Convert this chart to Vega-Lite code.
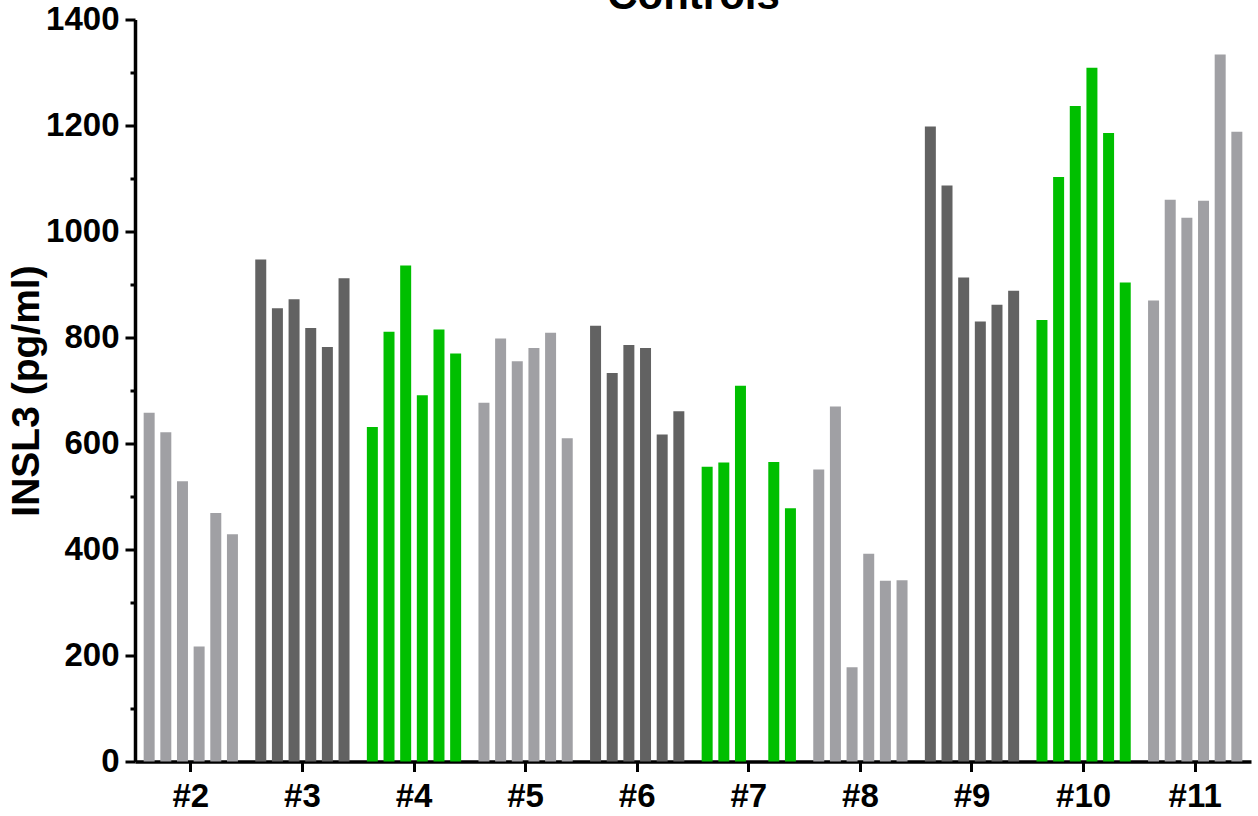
{
  "$schema": "https://vega.github.io/schema/vega-lite/v6.json",
  "autosize": {"type": "none"},
  "width": 1116,
  "height": 742,
  "padding": {"left": 135, "top": 19.5, "right": 7, "bottom": 54.5},
  "background": "white",
  "data": {"values": [
    {"group": "#2", "idx": 1, "value": 658, "shade": "light"},
    {"group": "#2", "idx": 2, "value": 621, "shade": "light"},
    {"group": "#2", "idx": 3, "value": 529, "shade": "light"},
    {"group": "#2", "idx": 4, "value": 217, "shade": "light"},
    {"group": "#2", "idx": 5, "value": 469, "shade": "light"},
    {"group": "#2", "idx": 6, "value": 429, "shade": "light"},
    {"group": "#3", "idx": 1, "value": 947, "shade": "dark"},
    {"group": "#3", "idx": 2, "value": 855, "shade": "dark"},
    {"group": "#3", "idx": 3, "value": 872, "shade": "dark"},
    {"group": "#3", "idx": 4, "value": 818, "shade": "dark"},
    {"group": "#3", "idx": 5, "value": 782, "shade": "dark"},
    {"group": "#3", "idx": 6, "value": 912, "shade": "dark"},
    {"group": "#4", "idx": 1, "value": 631, "shade": "green"},
    {"group": "#4", "idx": 2, "value": 811, "shade": "green"},
    {"group": "#4", "idx": 3, "value": 936, "shade": "green"},
    {"group": "#4", "idx": 4, "value": 691, "shade": "green"},
    {"group": "#4", "idx": 5, "value": 815, "shade": "green"},
    {"group": "#4", "idx": 6, "value": 770, "shade": "green"},
    {"group": "#5", "idx": 1, "value": 677, "shade": "light"},
    {"group": "#5", "idx": 2, "value": 798, "shade": "light"},
    {"group": "#5", "idx": 3, "value": 755, "shade": "light"},
    {"group": "#5", "idx": 4, "value": 780, "shade": "light"},
    {"group": "#5", "idx": 5, "value": 809, "shade": "light"},
    {"group": "#5", "idx": 6, "value": 610, "shade": "light"},
    {"group": "#6", "idx": 1, "value": 822, "shade": "dark"},
    {"group": "#6", "idx": 2, "value": 733, "shade": "dark"},
    {"group": "#6", "idx": 3, "value": 786, "shade": "dark"},
    {"group": "#6", "idx": 4, "value": 780, "shade": "dark"},
    {"group": "#6", "idx": 5, "value": 617, "shade": "dark"},
    {"group": "#6", "idx": 6, "value": 661, "shade": "dark"},
    {"group": "#7", "idx": 1, "value": 556, "shade": "green"},
    {"group": "#7", "idx": 2, "value": 564, "shade": "green"},
    {"group": "#7", "idx": 3, "value": 709, "shade": "green"},
    {"group": "#7", "idx": 5, "value": 565, "shade": "green"},
    {"group": "#7", "idx": 6, "value": 478, "shade": "green"},
    {"group": "#8", "idx": 1, "value": 551, "shade": "light"},
    {"group": "#8", "idx": 2, "value": 670, "shade": "light"},
    {"group": "#8", "idx": 3, "value": 178, "shade": "light"},
    {"group": "#8", "idx": 4, "value": 392, "shade": "light"},
    {"group": "#8", "idx": 5, "value": 341, "shade": "light"},
    {"group": "#8", "idx": 6, "value": 342, "shade": "light"},
    {"group": "#9", "idx": 1, "value": 1198, "shade": "dark"},
    {"group": "#9", "idx": 2, "value": 1087, "shade": "dark"},
    {"group": "#9", "idx": 3, "value": 913, "shade": "dark"},
    {"group": "#9", "idx": 4, "value": 830, "shade": "dark"},
    {"group": "#9", "idx": 5, "value": 862, "shade": "dark"},
    {"group": "#9", "idx": 6, "value": 888, "shade": "dark"},
    {"group": "#10", "idx": 1, "value": 833, "shade": "green"},
    {"group": "#10", "idx": 2, "value": 1103, "shade": "green"},
    {"group": "#10", "idx": 3, "value": 1237, "shade": "green"},
    {"group": "#10", "idx": 4, "value": 1309, "shade": "green"},
    {"group": "#10", "idx": 5, "value": 1186, "shade": "green"},
    {"group": "#10", "idx": 6, "value": 904, "shade": "green"},
    {"group": "#11", "idx": 1, "value": 870, "shade": "light"},
    {"group": "#11", "idx": 2, "value": 1060, "shade": "light"},
    {"group": "#11", "idx": 3, "value": 1026, "shade": "light"},
    {"group": "#11", "idx": 4, "value": 1058, "shade": "light"},
    {"group": "#11", "idx": 5, "value": 1334, "shade": "light"},
    {"group": "#11", "idx": 6, "value": 1188, "shade": "light"}
  ]},
  "layer": [
    {
      "mark": {"type": "bar"},
      "encoding": {
        "x": {
          "field": "group", "type": "nominal",
          "sort": ["#2", "#3", "#4", "#5", "#6", "#7", "#8", "#9", "#10", "#11"],
          "scale": {"paddingInner": 0, "paddingOuter": 0},
          "axis": {"title": null, "labelAngle": 0, "labelFont": "Liberation Sans", "labelFontSize": 33, "labelFontWeight": "bold", "labelColor": "black", "labelPadding": 9, "tickSize": 10, "tickWidth": 3, "tickColor": "black", "domainColor": "black", "domainWidth": 3.5, "grid": false}
        },
        "xOffset": {
          "field": "idx", "type": "ordinal",
          "scale": {"domain": [1, 2, 3, 4, 5, 6], "paddingInner": 0.34, "paddingOuter": 0.52}
        },
        "y": {
          "field": "value", "type": "quantitative",
          "scale": {"domain": [0, 1400], "nice": false, "zero": true},
          "axis": {"title": "INSL3 (pg/ml)", "format": "d", "titleFont": "Liberation Sans", "titleFontSize": 39, "titleFontWeight": "bold", "titleColor": "black", "titleBaseline": "alphabetic", "titlePadding": 7, "values": [0, 200, 400, 600, 800, 1000, 1200, 1400], "labelFont": "Liberation Sans", "labelFontSize": 33, "labelFontWeight": "bold", "labelColor": "black", "labelPadding": 6, "tickSize": 10, "tickWidth": 3, "tickColor": "black", "domainColor": "black", "domainWidth": 3.5, "grid": false}
        },
        "color": {
          "field": "shade", "type": "nominal",
          "scale": {"domain": ["light", "dark", "green"], "range": ["#A0A0A4", "#626262", "#00BF00"]},
          "legend": null
        }
      }
    },
    {
      "mark": {"type": "point", "opacity": 0},
      "encoding": {
        "x": {
          "field": "group", "type": "nominal",
          "sort": ["#2", "#3", "#4", "#5", "#6", "#7", "#8", "#9", "#10", "#11"],
          "axis": {"orient": "top", "title": "Controls", "titleFont": "Liberation Sans", "titleFontSize": 42, "titleFontWeight": "bold", "titleColor": "black", "titleBaseline": "alphabetic", "titlePadding": 11.5, "labels": false, "ticks": false, "domain": false, "grid": false}
        },
        "y": {
          "field": "value", "type": "quantitative",
          "axis": {"orient": "left", "title": null, "values": [100, 300, 500, 700, 900, 1100, 1300], "labels": false, "domain": false, "tickSize": 5, "tickWidth": 3, "tickColor": "black", "grid": false}
        }
      }
    }
  ],
  "resolve": {"scale": {"y": "shared", "x": "shared"}, "axis": {"y": "independent", "x": "independent"}},
  "config": {"view": {"stroke": null}}
}
